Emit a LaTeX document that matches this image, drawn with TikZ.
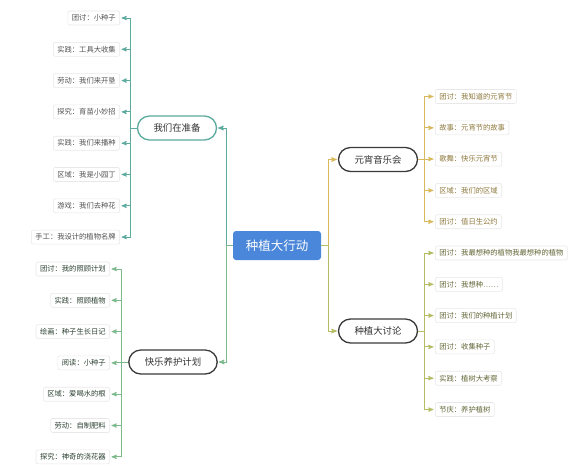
\documentclass[tikz,border=0pt]{standalone}
\usepackage{fontspec}
\usepackage{tikz}
\usetikzlibrary{arrows,positioning}
\newfontfamily\cjk{Noto Sans CJK SC}
\definecolor{rootblue}{HTML}{4A86D9}
\definecolor{prepline}{HTML}{5DAA9E}
\definecolor{careline}{HTML}{7DBA8B}
\definecolor{festline}{HTML}{D9B95C}
\definecolor{talkline}{HTML}{B4BC64}
\definecolor{darkline}{HTML}{3A3A3A}
\tikzset{
    %Define standard arrow tip
    >=stealth',
    %Define style for the root box
    rootbox/.style={
           rectangle,
           rounded corners=3pt,
           fill=rootblue,
           text=white,
           minimum width=88pt,
           minimum height=29pt,
           font=\cjk\fontsize{12.5}{14}\selectfont,
           text centered},
    %Define style for the branch boxes
    branch/.style={
           rectangle,
           rounded corners=12pt,
           draw=darkline, line width=1.3pt,
           fill=white,
           inner xsep=16pt,
           minimum height=24pt,
           text=black!80,
           font=\cjk\fontsize{9.4}{11}\selectfont,
           text centered},
    %Define style for the leaf boxes
    leaf/.style={
           rectangle,
           rounded corners=2pt,
           draw=black!9, line width=0.6pt,
           fill=white,
           inner xsep=4pt,
           minimum height=14pt,
           font=\cjk\fontsize{7.3}{8}\selectfont,
           text centered},
    % Define connector style
    link/.style={
           ->,
           line width=1pt,
           shorten >=1pt},
    twig/.style={
           ->,
           line width=0.9pt,
           shorten >=1.5pt}
}
\begin{document}
\begin{tikzpicture}[x=1pt,y=-1pt]
\useasboundingbox (0,0) rectangle (584,475);
 %nodes
\node[rootbox] (root) at (277,245.5) {种植大行动};
\node[branch, draw=prepline] (prep) at (177,128) {我们在准备};
\node[branch] (care) at (173,362) {快乐养护计划};
\node[branch] (fest) at (378,159.5) {元宵音乐会};
\node[branch] (talk) at (378,331) {种植大讨论};
 %leaves
\foreach \txt [count=\i] in {团讨：小种子, 实践：工具大收集, 劳动：我们来开垦, 探究：育苗小妙招,
    实践：我们来播种, 区域：我是小园丁, 游戏：我们去种花, 手工：我设计的植物名牌}
  \node[leaf, anchor=east, text=black!68] (p\i) at (120,{18+31.3*(\i-1)}) {\txt};
\foreach \txt [count=\i] in {团讨：我的照顾计划, 实践：照顾植物, 绘画：种子生长日记, 阅读：小种子,
    区域：爱喝水的根, 劳动：自制肥料, 探究：神奇的浇花器}
  \node[leaf, anchor=east, text=black!65!careline] (c\i) at (110,{269+31.3*(\i-1)}) {\txt};
\foreach \txt [count=\i] in {团讨：我知道的元宵节, 故事：元宵节的故事, 歌舞：快乐元宵节,
    区域：我们的区域, 团讨：值日生公约}
  \node[leaf, anchor=west, text=black!35!festline] (f\i) at (435,{96.5+31.3*(\i-1)}) {\txt};
\foreach \txt [count=\i] in {团讨：我最想种的植物我最想种的植物, 团讨：我想种……, 团讨：我们的种植计划,
    团讨：收集种子, 实践：植树大考察, 节庆：养护植树}
  \node[leaf, anchor=west, text=black!45!talkline] (t\i) at (435,{253+31.3*(\i-1)}) {\txt};
 %connectors
\draw[link, prepline] (root.west) -- ++(-6,0) |- (prep.east);
\draw[link, careline] (root.west) -- ++(-6,0) |- (care.east);
\draw[link, festline] (root.east) -- ++(7,0) |- (fest.west);
\draw[link, talkline] (root.east) -- ++(7,0) |- (talk.west);
\foreach \i in {1,...,8}
  \draw[twig, prepline] (prep.west) -- ++(-6,0) |- (p\i.east);
\foreach \i in {1,...,7}
  \draw[twig, careline] (care.west) -- ++(-7,0) |- (c\i.east);
\foreach \i in {1,...,5}
  \draw[twig, festline] (fest.east) -- ++(6,0) |- (f\i.west);
\foreach \i in {1,...,6}
  \draw[twig, talkline] (talk.east) -- ++(6,0) |- (t\i.west);
\end{tikzpicture}
\end{document}
